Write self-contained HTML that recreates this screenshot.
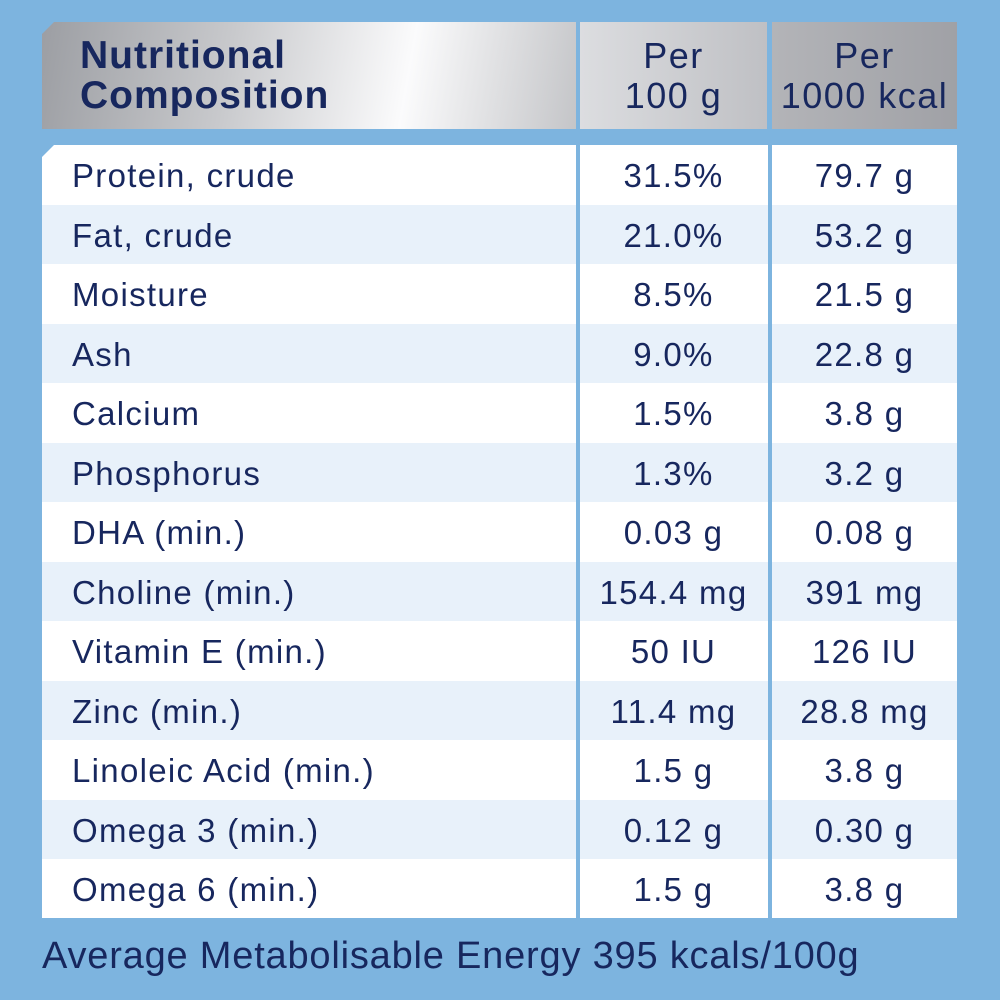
<!DOCTYPE html>
<html><head><meta charset="utf-8"><style>
html,body{margin:0;padding:0}
body{width:1000px;height:1000px;background:#7db4df;position:relative;overflow:hidden;font-family:"Liberation Sans",sans-serif;color:#17275e}
.h{position:absolute;top:22px;height:107px}
.h1{left:42px;width:534px;background:linear-gradient(100deg,#9c9ea3 0%,#c8c9cc 35%,#fbfbfc 68%,#c4c5c8 100%);clip-path:polygon(12px 0,100% 0,100% 100%,0 100%,0 12px)}
.h2{left:580px;width:187px;background:linear-gradient(90deg,#dcdde0,#bfc0c4);text-align:center}
.h3{left:772px;width:185px;background:linear-gradient(90deg,#b3b4b8,#a0a1a6);text-align:center}
.ht{position:absolute;left:38px;top:14px;font-weight:bold;font-size:39px;line-height:40px;letter-spacing:1px}
.hc{font-size:36px;line-height:40px;padding-top:14px;letter-spacing:1.5px;white-space:nowrap}
.row{position:absolute;left:42px;width:915px;height:60px;font-size:33px;letter-spacing:1.3px}
.row div{position:absolute;top:0;height:100%;line-height:62px;white-space:nowrap}
.c1{left:0;width:534px;padding-left:30px;box-sizing:border-box}
.c2{left:538px;width:187px;text-align:center}
.c3{left:730px;width:185px;text-align:center}
.sep{position:absolute;top:145px;height:773px;width:4px;background:#7db4df}
.foot{position:absolute;left:42px;top:935px;font-size:38px;letter-spacing:0.8px;white-space:nowrap}
</style></head><body>
<div class="h h1"><div class="ht">Nutritional<br>Composition</div></div>
<div class="h h2"><div class="hc">Per<br>100 g</div></div>
<div class="h h3"><div class="hc">Per<br>1000 kcal</div></div>
<div class="row" style="top:145px;background:#fff;clip-path:polygon(12px 0,100% 0,100% 100%,0 100%,0 12px)"><div class="c1">Protein, crude</div><div class="c2">31.5%</div><div class="c3">79.7 g</div></div>
<div class="row" style="top:204.5px;background:#e8f1fa"><div class="c1">Fat, crude</div><div class="c2">21.0%</div><div class="c3">53.2 g</div></div>
<div class="row" style="top:264px;background:#fff"><div class="c1">Moisture</div><div class="c2">8.5%</div><div class="c3">21.5 g</div></div>
<div class="row" style="top:323.5px;background:#e8f1fa"><div class="c1">Ash</div><div class="c2">9.0%</div><div class="c3">22.8 g</div></div>
<div class="row" style="top:383px;background:#fff"><div class="c1">Calcium</div><div class="c2">1.5%</div><div class="c3">3.8 g</div></div>
<div class="row" style="top:442.5px;background:#e8f1fa"><div class="c1">Phosphorus</div><div class="c2">1.3%</div><div class="c3">3.2 g</div></div>
<div class="row" style="top:502px;background:#fff"><div class="c1">DHA (min.)</div><div class="c2">0.03 g</div><div class="c3">0.08 g</div></div>
<div class="row" style="top:561.5px;background:#e8f1fa"><div class="c1">Choline (min.)</div><div class="c2">154.4 mg</div><div class="c3">391 mg</div></div>
<div class="row" style="top:621px;background:#fff"><div class="c1">Vitamin E (min.)</div><div class="c2">50 IU</div><div class="c3">126 IU</div></div>
<div class="row" style="top:680.5px;background:#e8f1fa"><div class="c1">Zinc (min.)</div><div class="c2">11.4 mg</div><div class="c3">28.8 mg</div></div>
<div class="row" style="top:740px;background:#fff"><div class="c1">Linoleic Acid (min.)</div><div class="c2">1.5 g</div><div class="c3">3.8 g</div></div>
<div class="row" style="top:799.5px;background:#e8f1fa"><div class="c1">Omega 3 (min.)</div><div class="c2">0.12 g</div><div class="c3">0.30 g</div></div>
<div class="row" style="top:859px;background:#fff;height:59px"><div class="c1">Omega 6 (min.)</div><div class="c2">1.5 g</div><div class="c3">3.8 g</div></div>
<div class="sep" style="left:576px"></div>
<div class="sep" style="left:768px"></div>
<div class="foot">Average Metabolisable Energy 395 kcals/100g</div>
</body></html>
